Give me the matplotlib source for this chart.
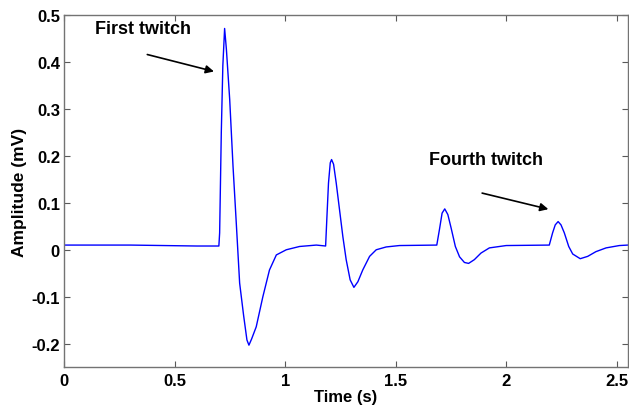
import numpy as np
import matplotlib.pyplot as plt

plt.rcParams["font.family"] = ["Liberation Sans", "DejaVu Sans"]
plt.rcParams["font.weight"] = "bold"

# EMG train-of-four response, sampled points (s, mV)
time_s = [0.000, 0.300, 0.600, 0.700, 0.7035, 0.711, 0.718, 0.726, 0.734,
          0.749, 0.764, 0.779, 0.794, 0.812, 0.827, 0.836, 0.848, 0.869,
          0.899, 0.929, 0.960, 1.005, 1.065, 1.141,
          1.183, 1.189, 1.196, 1.204, 1.210, 1.219, 1.231, 1.246, 1.261,
          1.276, 1.294, 1.311, 1.329, 1.351, 1.382, 1.412, 1.457, 1.517,
          1.686, 1.698, 1.710, 1.722, 1.736, 1.751, 1.770, 1.789, 1.811,
          1.830, 1.856, 1.886, 1.924, 2.000,
          2.195, 2.210, 2.222, 2.235, 2.248, 2.263, 2.283, 2.301, 2.335,
          2.369, 2.406, 2.452, 2.512, 2.550]
amp_mv = [0.010, 0.010, 0.008, 0.008, 0.036, 0.250, 0.392, 0.471, 0.427,
          0.320, 0.178, 0.055, -0.071, -0.140, -0.192, -0.203, -0.190, -0.164,
          -0.100, -0.043, -0.011, 0.000, 0.007, 0.010,
          0.008, 0.071, 0.142, 0.185, 0.192, 0.182, 0.142, 0.085, 0.028,
          -0.021, -0.064, -0.080, -0.068, -0.043, -0.014, 0.000, 0.006, 0.009,
          0.010, 0.043, 0.078, 0.087, 0.075, 0.046, 0.007, -0.015, -0.027,
          -0.029, -0.021, -0.007, 0.004, 0.009,
          0.010, 0.036, 0.053, 0.060, 0.053, 0.036, 0.007, -0.009, -0.019,
          -0.014, -0.004, 0.004, 0.009, 0.010]

xticks = [0, 0.5, 1, 1.5, 2, 2.5]
xtick_labels = ["0", "0.5", "1", "1.5", "2", "2.5"]
yticks = [-0.2, -0.1, 0, 0.1, 0.2, 0.3, 0.4, 0.5]
ytick_labels = ["-0.2", "-0.1", "0", "0.1", "0.2", "0.3", "0.4", "0.5"]

fig = plt.figure(figsize=(6.29, 4.06), dpi=100)
ax = fig.add_axes([0.102, 0.093, 0.896, 0.868])

ax.plot(time_s, amp_mv, color="#0000ff", linewidth=1.0)

ax.set_xlim(0, 2.55)
ax.set_ylim(-0.25, 0.5)
ax.set_xticks(xticks)
ax.set_xticklabels(xtick_labels)
ax.set_yticks(yticks)
ax.set_yticklabels(ytick_labels)
ax.tick_params(direction="in", top=True, right=True, length=4,
               labelsize=12, color="0.35")
ax.tick_params(axis="x", pad=4)
ax.tick_params(axis="y", pad=3)
for s in ax.spines.values():
    s.set_color("0.45")
    s.set_linewidth(1.0)

ax.set_xlabel("Time (s)", fontsize=12, fontweight="bold", va="top")
ax.xaxis.set_label_coords(0.5, -0.061)
ax.set_ylabel("Amplitude (mV)", fontsize=12.5, fontweight="bold")
ax.yaxis.set_label_coords(-0.066, 0.5)

arrow = dict(arrowstyle="-|>", color="black", lw=1.2, mutation_scale=12)
ax.annotate("", xy=(0.690, 0.378), xytext=(0.364, 0.417), arrowprops=arrow)
ax.text(0.138, 0.47, "First twitch", fontsize=13, fontweight="bold",
        va="center", ha="left")
ax.annotate("", xy=(2.203, 0.085), xytext=(1.879, 0.122), arrowprops=arrow)
ax.text(1.653, 0.192, "Fourth twitch", fontsize=13, fontweight="bold",
        va="center", ha="left")

fig.savefig("out.png", dpi=100)
